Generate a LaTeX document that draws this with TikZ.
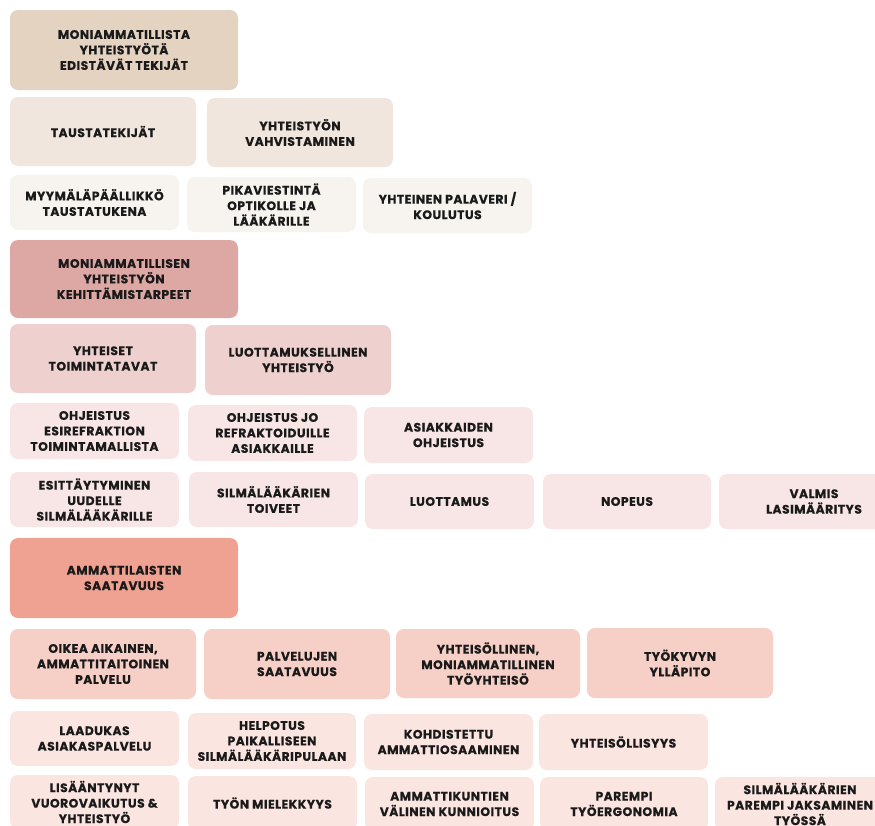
\documentclass[tikz,border=0pt]{standalone}
\usepackage{fontspec}
\newfontfamily\boxfont[LetterSpace=4,BoldFeatures={FakeBold=0.6}]{Poppins}
\definecolor{cH1}{HTML}{E4D3C1}
\definecolor{cA}{HTML}{F0E6DD}
\definecolor{cB}{HTML}{F7F4EF}
\definecolor{cH2}{HTML}{DDA7A4}
\definecolor{cC}{HTML}{EED1CE}
\definecolor{cD}{HTML}{F7E6E5}
\definecolor{cH3}{HTML}{F0A292}
\definecolor{cF}{HTML}{F6CFC6}
\definecolor{cG}{HTML}{FBE5E0}
\definecolor{ink}{HTML}{1A1A1A}
\newcommand{\bx}[7]{%
  \node[boxnode, fill=#6, minimum width={(#4-#2)*1pt}, minimum height={(#5-#3)*1pt}]
    (#1) at ({(#2+#4)/2},{(#3+#5)/2}) {#7};}
\newcommand{\bxt}[8]{%
  \node[boxnode, fill=#6, minimum width={(#4-#2)*1pt}, minimum height={(#5-#3)*1pt}]
    (#1) at ({(#2+#4)/2},{(#3+#5)/2}) {};
  \node[text=ink, font=\boxfont\bfseries\fontsize{12.3}{15.5}\selectfont, align=center]
    (#1t) at ({#8},{(#3+#5)/2}) {#7};}
\begin{document}
\begin{tikzpicture}[x=1pt,y=-1pt,
  boxnode/.style={draw=none, rounded corners=8pt, inner sep=0pt, outer sep=0pt,
    text=ink, align=center, font=\boxfont\bfseries\fontsize{12.3}{15.5}\selectfont}]
\useasboundingbox (0,0) rectangle (875,825);
\clip (0,0) rectangle (875,825);
\fill[white] (0,0) rectangle (875,825);
% group 1
\bx{h1}{10}{10}{238}{90}{cH1}{MONIAMMATILLISTA\\YHTEISTYÖTÄ\\EDISTÄVÄT TEKIJÄT}
\bx{a1}{10}{97}{196}{166}{cA}{TAUSTATEKIJÄT}
\bx{a2}{207}{98}{393}{167}{cA}{YHTEISTYÖN\\VAHVISTAMINEN}
\bx{b1}{10}{175}{179}{230}{cB}{MYYMÄLÄPÄÄLLIKKÖ\\TAUSTATUKENA}
\bx{b2}{187}{177}{356}{232}{cB}{PIKAVIESTINTÄ\\OPTIKOLLE JA\\LÄÄKÄRILLE}
\bx{b3}{363}{178}{532}{233}{cB}{YHTEINEN PALAVERI /\\KOULUTUS}
% group 2
\bx{h2}{10}{240}{238}{318}{cH2}{MONIAMMATILLISEN\\YHTEISTYÖN\\KEHITTÄMISTARPEET}
\bx{c1}{10}{324}{196}{393}{cC}{YHTEISET\\TOIMINTATAVAT}
\bx{c2}{205}{325}{391}{395}{cC}{LUOTTAMUKSELLINEN\\YHTEISTYÖ}
\bx{d1}{10}{403}{179}{459}{cD}{OHJEISTUS\\ESIREFRAKTION\\TOIMINTAMALLISTA}
\bx{d2}{188}{405}{357}{461}{cD}{OHJEISTUS JO\\REFRAKTOIDUILLE\\ASIAKKAILLE}
\bx{d3}{364}{407}{533}{463}{cD}{ASIAKKAIDEN\\OHJEISTUS}
\bx{e1}{10}{472}{179}{527}{cD}{ESITTÄYTYMINEN\\UUDELLE\\SILMÄLÄÄKÄRILLE}
\bx{e2}{189}{472}{358}{527}{cD}{SILMÄLÄÄKÄRIEN\\TOIVEET}
\bx{e3}{365}{474}{534}{529}{cD}{LUOTTAMUS}
\bx{e4}{543}{474}{711}{529}{cD}{NOPEUS}
\bxt{e5}{719}{474}{911}{529}{cD}{VALMIS\\LASIMÄÄRITYS}{814}
% group 3
\bx{h3}{10}{538}{238}{618}{cH3}{AMMATTILAISTEN\\SAATAVUUS}
\bx{f1}{10}{629}{196}{699}{cF}{OIKEA AIKAINEN,\\AMMATTITAITOINEN\\PALVELU}
\bx{f2}{204}{629}{390}{699}{cF}{PALVELUJEN\\SAATAVUUS}
\bx{f3}{396}{629}{580}{698}{cF}{YHTEISÖLLINEN,\\MONIAMMATILLINEN\\TYÖYHTEISÖ}
\bx{f4}{587}{628}{773}{698}{cF}{TYÖKYVYN\\YLLÄPITO}
\bx{g1}{10}{711}{179}{766}{cG}{LAADUKAS\\ASIAKASPALVELU}
\bx{g2}{188}{713}{356}{769}{cG}{HELPOTUS\\PAIKALLISEEN\\SILMÄLÄÄKÄRIPULAAN}
\bx{g3}{364}{714}{533}{770}{cG}{KOHDISTETTU\\AMMATTIOSAAMINEN}
\bx{g4}{539}{714}{708}{770}{cG}{YHTEISÖLLISYYS}
\bx{i1}{10}{775}{179}{829}{cG}{LISÄÄNTYNYT\\VUOROVAIKUTUS \&\\YHTEISTYÖ}
\bx{i2}{188}{776}{357}{830}{cG}{TYÖN MIELEKKYYS}
\bx{i3}{365}{777}{534}{831}{cG}{AMMATTIKUNTIEN\\VÄLINEN KUNNIOITUS}
\bx{i4}{540}{777}{708}{831}{cG}{PAREMPI\\TYÖERGONOMIA}
\bx{i5}{715}{777}{885}{831}{cG}{SILMÄLÄÄKÄRIEN\\PAREMPI JAKSAMINEN\\TYÖSSÄ}
\end{tikzpicture}
\end{document}
